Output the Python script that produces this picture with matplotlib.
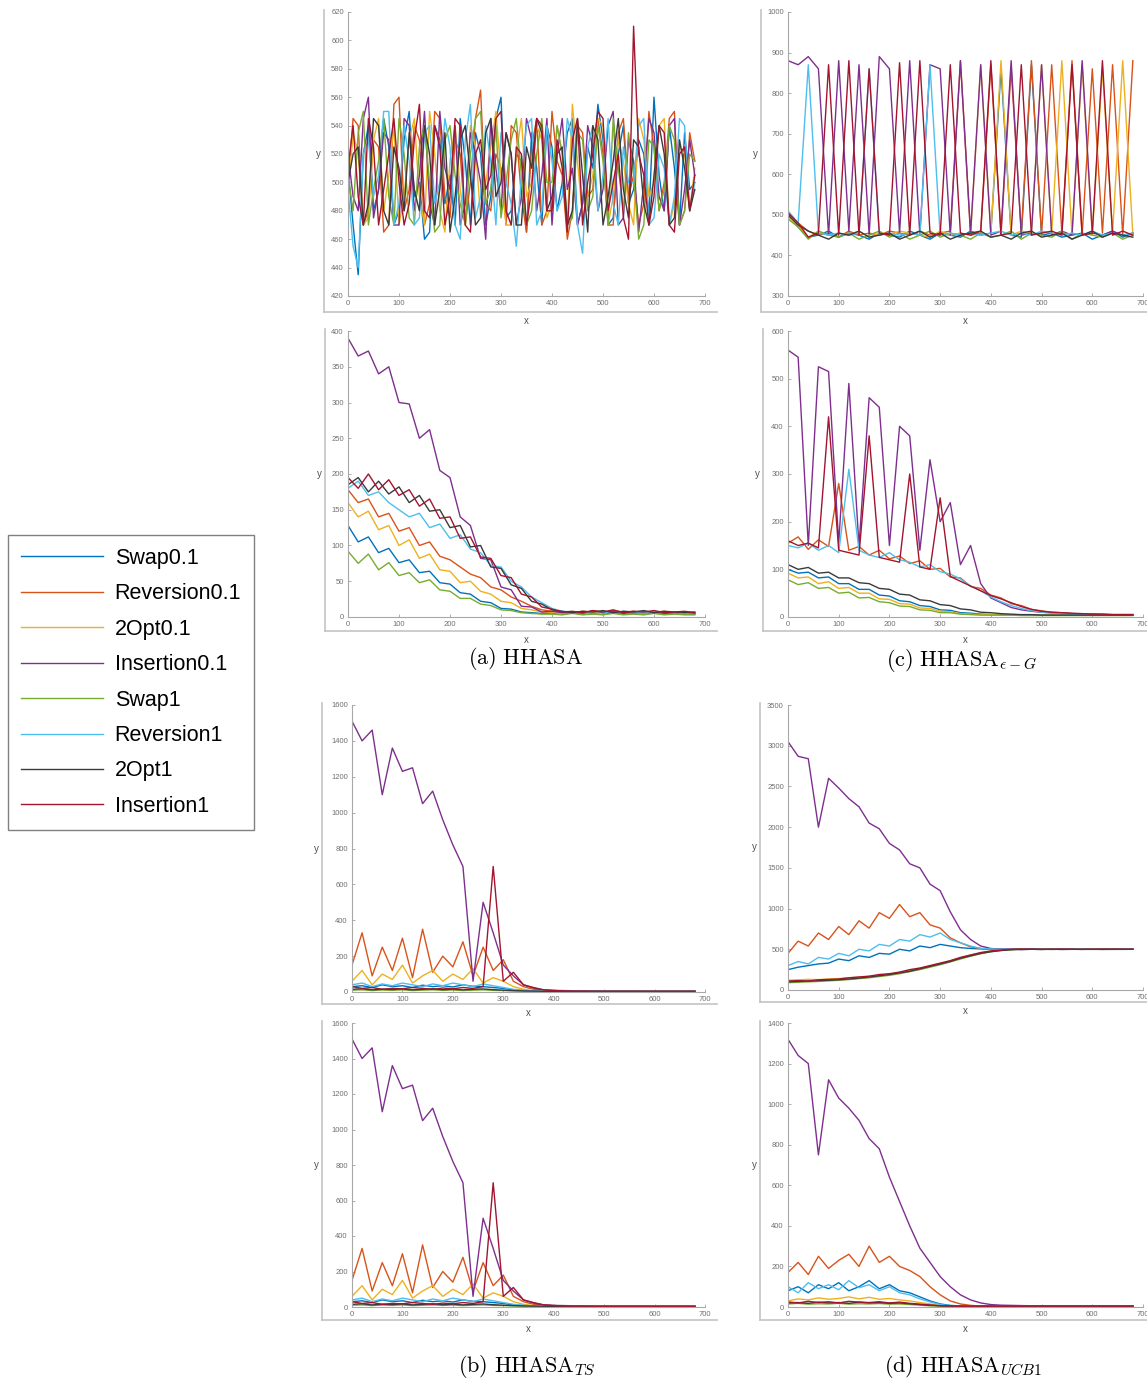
import matplotlib.pyplot as plt
import numpy as np
from matplotlib.lines import Line2D

plt.rcParams["font.family"] = ["Liberation Sans", "DejaVu Sans"]
plt.rcParams["mathtext.fontset"] = "cm"

W, H = 1147, 1384

# iteration index: every 20th step, the noisy top-left plot every 10th step
x = np.arange(0, 700, 20)
x_fine = np.arange(0, 690, 10)

series_names = ["Swap0.1", "Reversion0.1", "2Opt0.1", "Insertion0.1",
                "Swap1", "Reversion1", "2Opt1", "Insertion1"]
series_colors = ["#0072BD", "#D95319", "#EDB120", "#7E2F8E",
                 "#77AC30", "#4DBEEE", "#3a3a3a", "#A2142F"]

# (a) HHASA, upper plot  (order = series_names), on x_fine
hhasa_top = [
    [510, 470, 435, 520, 540, 480, 495, 545, 525, 470, 480, 530, 550, 490, 500, 460, 465, 540,
     530, 485, 505, 470, 545, 515, 470, 535, 520, 470, 490, 545, 560, 475, 480, 520, 515, 465,
     535, 510, 470, 540, 525, 480, 500, 535, 545, 470, 485, 525, 510, 555, 530, 470, 475, 520,
     540, 485, 495, 530, 520, 475, 560, 505, 480, 540, 510, 470, 535, 495, 500],
    [500, 545, 540, 470, 480, 530, 525, 465, 470, 555, 560, 480, 495, 540, 530, 470, 485, 550,
     545, 490, 475, 530, 520, 470, 500, 545, 565, 485, 480, 520, 510, 470, 540, 535, 490, 465,
     525, 545, 470, 480, 550, 515, 505, 460, 480, 540, 535, 490, 495, 545, 520, 470, 470, 535,
     545, 490, 505, 470, 485, 550, 525, 480, 500, 545, 550, 470, 480, 535, 515],
    [490, 535, 520, 470, 475, 530, 545, 480, 505, 540, 470, 490, 530, 545, 490, 470, 550, 520,
     480, 465, 515, 540, 495, 470, 540, 525, 475, 500, 525, 550, 505, 470, 470, 520, 545, 490,
     500, 540, 530, 475, 485, 540, 520, 470, 555, 515, 475, 490, 505, 545, 540, 470, 490, 530,
     515, 485, 470, 545, 530, 490, 500, 540, 545, 470, 485, 525, 520, 480, 510],
    [520, 490, 480, 545, 560, 475, 495, 535, 530, 470, 470, 545, 540, 480, 505, 550, 485, 470,
     550, 510, 495, 540, 470, 485, 535, 520, 500, 460, 545, 510, 480, 535, 520, 470, 490, 545,
     530, 480, 505, 545, 470, 520, 545, 495, 510, 470, 485, 540, 525, 480, 495, 540, 550, 470,
     475, 530, 515, 465, 500, 545, 535, 490, 480, 540, 545, 470, 495, 530, 505],
    [505, 480, 535, 550, 470, 495, 515, 545, 490, 470, 545, 520, 475, 470, 525, 540, 500, 465,
     470, 530, 540, 505, 485, 470, 520, 545, 550, 485, 495, 540, 475, 500, 530, 545, 505, 470,
     480, 520, 545, 500, 500, 540, 520, 470, 475, 535, 530, 480, 490, 540, 515, 470, 545, 510,
     480, 535, 505, 460, 470, 530, 525, 480, 495, 540, 530, 470, 480, 520, 515],
    [495, 455, 440, 520, 530, 490, 505, 550, 550, 470, 485, 540, 515, 470, 475, 535, 540, 485,
     500, 545, 525, 470, 460, 530, 555, 475, 490, 540, 515, 470, 535, 500, 485, 455, 505, 540,
     545, 470, 480, 540, 515, 480, 490, 545, 530, 470, 450, 525, 540, 480, 505, 545, 485, 470,
     525, 500, 500, 540, 545, 470, 475, 520, 510, 470, 490, 545, 540, 480, 500],
    [500, 520, 525, 470, 485, 545, 540, 480, 470, 525, 510, 480, 535, 495, 480, 540, 520, 470,
     495, 535, 465, 490, 530, 540, 505, 470, 475, 535, 545, 490, 500, 535, 520, 470, 470, 525,
     510, 545, 535, 480, 490, 520, 525, 470, 480, 545, 505, 465, 540, 530, 470, 490, 515, 545,
     495, 475, 530, 525, 485, 470, 505, 540, 520, 470, 475, 530, 510, 480, 495],
    [510, 540, 490, 470, 545, 525, 470, 495, 520, 545, 500, 470, 485, 530, 555, 480, 475, 540,
     525, 470, 490, 545, 540, 470, 465, 520, 530, 495, 505, 545, 550, 480, 470, 525, 520, 470,
     495, 545, 540, 480, 480, 530, 510, 465, 530, 545, 470, 500, 520, 550, 545, 480, 500, 520,
     475, 460, 610, 520, 505, 470, 490, 540, 535, 470, 465, 520, 525, 480, 505],
]

# (a) HHASA, lower plot
hhasa_bottom = [
    [128, 105, 112, 90, 96, 76, 80, 62, 64, 48, 46, 34, 32, 22, 20, 12, 11, 7,
     6, 5, 5, 4, 6, 4, 5, 4, 6, 4, 5, 4, 6, 4, 5, 4, 4],
    [178, 160, 165, 140, 145, 120, 125, 100, 105, 85, 80, 70, 60, 55, 42, 38, 28, 22,
     15, 10, 8, 7, 6, 8, 7, 6, 9, 7, 8, 6, 7, 8, 6, 7, 6],
    [160, 140, 148, 122, 128, 100, 108, 82, 88, 66, 64, 48, 50, 36, 32, 22, 20, 12,
     10, 7, 6, 5, 7, 5, 6, 5, 7, 5, 6, 5, 7, 5, 6, 5, 5],
    [390, 365, 372, 340, 350, 300, 298, 250, 262, 205, 195, 140, 128, 82, 80, 42, 38, 15,
     14, 7, 8, 6, 7, 5, 9, 6, 8, 5, 7, 6, 8, 5, 6, 7, 5],
    [92, 75, 88, 66, 76, 58, 62, 48, 52, 38, 36, 26, 26, 18, 16, 10, 9, 6,
     5, 4, 4, 3, 5, 3, 4, 3, 5, 3, 4, 3, 5, 3, 4, 3, 3],
    [180, 190, 170, 175, 160, 150, 140, 145, 125, 130, 110, 115, 95, 90, 72, 70, 50, 42,
     28, 20, 12, 8, 7, 6, 8, 7, 6, 8, 7, 6, 8, 7, 6, 7, 6],
    [185, 195, 175, 190, 172, 182, 160, 170, 148, 150, 125, 128, 98, 100, 70, 68, 45, 40,
     22, 18, 10, 8, 6, 8, 7, 9, 6, 8, 7, 9, 6, 8, 7, 6, 7],
    [195, 180, 200, 178, 192, 170, 178, 155, 165, 138, 140, 110, 112, 84, 82, 58, 55, 32,
     28, 14, 11, 7, 8, 6, 9, 7, 10, 6, 8, 7, 9, 6, 7, 8, 6],
]

# (b) HHASA_TS (both plots show the same run)
ts_run = [
    [30, 35, 25, 40, 30, 35, 25, 38, 30, 35, 28, 40, 32, 30, 25, 20, 12, 8,
     5, 4, 4, 4, 4, 4, 4, 4, 4, 4, 4, 4, 4, 4, 4, 4, 4],
    [150, 330, 90, 250, 120, 300, 80, 350, 110, 200, 140, 280, 90, 250, 120, 180, 60, 30,
     15, 10, 8, 6, 5, 5, 4, 4, 4, 4, 4, 4, 4, 4, 4, 4, 4],
    [60, 120, 40, 100, 70, 150, 50, 90, 120, 60, 100, 70, 130, 50, 80, 60, 30, 15,
     8, 5, 4, 4, 4, 4, 4, 4, 4, 4, 4, 4, 4, 4, 4, 4, 4],
    [1510, 1400, 1460, 1100, 1360, 1230, 1250, 1050, 1120, 960, 820, 700, 60, 500, 330, 150, 90, 40,
     22, 12, 9, 8, 7, 6, 6, 5, 5, 5, 5, 4, 4, 4, 4, 4, 4],
    [10, 12, 8, 11, 9, 12, 8, 10, 12, 9, 11, 8, 10, 12, 9, 8, 6, 5,
     4, 3, 3, 3, 3, 3, 3, 3, 3, 3, 3, 3, 3, 3, 3, 3, 3],
    [40, 50, 30, 45, 35, 50, 40, 30, 45, 35, 50, 40, 30, 45, 35, 25, 15, 10,
     6, 5, 4, 4, 4, 4, 4, 4, 4, 4, 4, 4, 4, 4, 4, 4, 4],
    [15, 18, 12, 16, 14, 17, 12, 15, 18, 13, 16, 12, 15, 17, 13, 10, 8, 6,
     5, 4, 3, 3, 3, 3, 3, 3, 3, 3, 3, 3, 3, 3, 3, 3, 3],
    [30, 20, 25, 15, 20, 18, 25, 20, 15, 22, 18, 25, 20, 30, 700, 60, 110, 40,
     25, 12, 8, 6, 5, 5, 4, 4, 4, 4, 4, 4, 4, 4, 4, 4, 4],
]

# (c) HHASA_eps-G, upper plot
egreedy_top = [
    [500, 470, 445, 450, 460, 445, 455, 450, 440, 455, 450, 445, 460, 450, 440, 455, 450, 445,
     460, 450, 455, 860, 450, 445, 870, 450, 455, 445, 450, 455, 440, 450, 460, 445, 455],
    [505, 480, 460, 450, 455, 445, 460, 450, 455, 450, 460, 455, 450, 460, 450, 455, 460, 880,
     450, 455, 870, 450, 860, 455, 880, 450, 870, 455, 880, 450, 860, 455, 870, 450, 880],
    [495, 475, 445, 460, 450, 455, 450, 460, 445, 455, 450, 460, 455, 450, 445, 460, 450, 455,
     450, 870, 455, 880, 450, 460, 455, 870, 455, 880, 450, 870, 450, 860, 455, 880, 450],
    [880, 870, 890, 860, 450, 880, 460, 870, 450, 890, 860, 455, 880, 450, 870, 860, 450, 880,
     455, 870, 450, 460, 880, 450, 455, 870, 450, 460, 450, 880, 455, 450, 460, 450, 455],
    [490, 470, 440, 460, 450, 445, 455, 440, 450, 460, 445, 455, 440, 450, 460, 445, 455, 450,
     440, 455, 445, 450, 460, 440, 455, 450, 445, 460, 440, 455, 450, 445, 455, 440, 450],
    [510, 480, 870, 455, 450, 455, 450, 455, 860, 450, 455, 450, 455, 450, 870, 450, 455, 450,
     455, 450, 455, 460, 450, 455, 450, 460, 455, 450, 455, 450, 460, 450, 455, 450, 455],
    [500, 475, 460, 450, 440, 455, 450, 460, 445, 450, 455, 440, 450, 460, 445, 455, 440, 450,
     455, 460, 445, 450, 440, 455, 460, 445, 450, 455, 440, 450, 460, 445, 455, 450, 445],
    [505, 480, 445, 455, 870, 450, 880, 450, 860, 455, 450, 875, 450, 880, 455, 450, 870, 455,
     450, 460, 880, 450, 455, 870, 450, 455, 460, 450, 870, 450, 455, 880, 450, 460, 450],
]

# (c) HHASA_eps-G, lower plot
egreedy_bottom = [
    [100, 92, 94, 82, 84, 70, 70, 58, 58, 46, 44, 34, 32, 24, 22, 15, 14, 9,
     8, 6, 5, 5, 4, 4, 4, 4, 4, 4, 4, 4, 4, 4, 4, 4, 4],
    [155, 168, 142, 162, 148, 280, 140, 148, 130, 140, 122, 128, 112, 118, 100, 102, 84, 82,
     64, 60, 46, 40, 28, 24, 16, 13, 10, 9, 7, 7, 6, 6, 5, 5, 5],
    [92, 82, 84, 70, 74, 60, 62, 50, 50, 38, 37, 28, 27, 19, 18, 12, 11, 7,
     6, 5, 5, 4, 4, 4, 4, 4, 4, 4, 4, 4, 4, 4, 4, 4, 4],
    [560, 545, 150, 525, 515, 155, 490, 150, 460, 440, 150, 400, 380, 140, 330, 200, 240, 110,
     150, 70, 40, 30, 20, 15, 12, 10, 9, 8, 7, 6, 6, 5, 5, 5, 5],
    [78, 68, 72, 60, 62, 50, 52, 40, 41, 32, 30, 23, 22, 15, 14, 9, 9, 6,
     5, 4, 4, 4, 4, 3, 3, 3, 3, 3, 3, 3, 3, 3, 3, 3, 3],
    [150, 145, 155, 140, 150, 135, 310, 140, 130, 125, 135, 120, 115, 105, 110, 95, 90, 80,
     65, 55, 42, 32, 24, 18, 13, 10, 8, 7, 6, 6, 5, 5, 5, 5, 5],
    [110, 100, 104, 92, 94, 82, 82, 72, 70, 60, 58, 48, 46, 36, 34, 26, 24, 17,
     15, 10, 9, 7, 6, 5, 5, 4, 4, 4, 4, 4, 4, 4, 4, 4, 4],
    [160, 150, 155, 145, 420, 140, 135, 130, 380, 125, 120, 115, 300, 105, 100, 250, 85, 75,
     65, 55, 45, 38, 30, 22, 16, 12, 10, 9, 8, 7, 6, 6, 5, 5, 5],
]

# (d) HHASA_UCB1, upper plot
ucb_top = [
    [250, 280, 300, 320, 330, 380, 360, 420, 400, 450, 440, 500, 480, 540, 520, 560, 540, 520,
     510, 505, 500, 502, 498, 500, 501, 499, 500, 500, 501, 499, 500, 500, 499, 500, 500],
    [450, 600, 540, 700, 620, 780, 680, 850, 760, 950, 880, 1050, 900, 950, 800, 760, 640, 580,
     530, 510, 505, 500, 498, 502, 500, 499, 501, 500, 499, 500, 501, 500, 499, 500, 500],
    [120, 125, 130, 128, 135, 140, 150, 158, 165, 180, 195, 215, 240, 265, 295, 325, 360, 395,
     430, 455, 475, 490, 498, 500, 501, 500, 499, 500, 501, 500, 500, 499, 500, 500, 500],
    [3050, 2870, 2840, 2000, 2600, 2480, 2350, 2250, 2050, 1980, 1800, 1720, 1550, 1500, 1300, 1220, 960, 740,
     620, 540, 510, 500, 505, 495, 500, 498, 502, 497, 500, 499, 501, 498, 500, 499, 500],
    [90, 95, 100, 105, 112, 120, 128, 140, 150, 165, 180, 200, 225, 250, 280, 310, 345, 380,
     415, 445, 470, 485, 495, 500, 500, 501, 499, 500, 500, 501, 500, 499, 500, 500, 500],
    [300, 350, 320, 400, 380, 450, 420, 500, 480, 560, 540, 620, 600, 680, 650, 700, 620, 580,
     540, 510, 505, 500, 502, 498, 500, 501, 499, 500, 500, 501, 499, 500, 500, 499, 500],
    [100, 105, 110, 115, 120, 125, 135, 145, 160, 175, 190, 210, 230, 260, 290, 320, 350, 390,
     420, 450, 470, 485, 495, 500, 502, 500, 499, 501, 500, 500, 499, 500, 501, 500, 500],
    [110, 115, 110, 125, 130, 135, 150, 160, 170, 190, 200, 220, 250, 270, 300, 330, 360, 400,
     430, 460, 480, 490, 500, 502, 500, 499, 500, 501, 500, 499, 500, 501, 500, 500, 500],
]

# (d) HHASA_UCB1, lower plot
ucb_bottom = [
    [80, 100, 70, 110, 90, 120, 80, 100, 130, 90, 110, 80, 70, 50, 30, 15, 8, 5,
     4, 4, 4, 4, 4, 4, 4, 4, 4, 4, 4, 4, 4, 4, 4, 4, 4],
    [170, 220, 160, 250, 190, 230, 260, 200, 300, 220, 250, 200, 180, 150, 100, 60, 30, 15,
     8, 5, 5, 4, 4, 4, 4, 4, 4, 4, 4, 4, 4, 4, 4, 4, 4],
    [30, 40, 35, 45, 38, 42, 50, 40, 48, 38, 42, 35, 30, 22, 15, 8, 5, 4,
     4, 4, 4, 4, 4, 4, 4, 4, 4, 4, 4, 4, 4, 4, 4, 4, 4],
    [1320, 1240, 1200, 750, 1120, 1030, 980, 920, 830, 780, 640, 520, 400, 290, 220, 150, 100, 60,
     35, 20, 12, 9, 8, 7, 6, 6, 5, 5, 5, 5, 5, 5, 5, 5, 5],
    [15, 18, 14, 16, 15, 18, 14, 16, 15, 17, 14, 15, 12, 9, 6, 5, 4, 3,
     3, 3, 3, 3, 3, 3, 3, 3, 3, 3, 3, 3, 3, 3, 3, 3, 3],
    [100, 70, 120, 90, 110, 85, 130, 95, 110, 80, 100, 70, 60, 40, 25, 12, 6, 4,
     4, 4, 4, 4, 4, 4, 4, 4, 4, 4, 4, 4, 4, 4, 4, 4, 4],
    [20, 22, 18, 24, 20, 22, 18, 24, 20, 22, 18, 20, 16, 12, 8, 6, 5, 4,
     4, 4, 4, 4, 4, 4, 4, 4, 4, 4, 4, 4, 4, 4, 4, 4, 4],
    [25, 20, 28, 22, 26, 20, 28, 24, 22, 26, 20, 24, 18, 14, 10, 6, 5, 4,
     4, 4, 4, 4, 4, 4, 4, 4, 4, 4, 4, 4, 4, 4, 4, 4, 4],
]

FRAME_COLOR = "#c4c4c4"
TICK_COLOR = "#707070"


def fig_line(fig, xs, ys):
    # line given in figure pixels (origin top left)
    fig.add_artist(Line2D([v / W for v in xs], [1 - v / H for v in ys],
                          transform=fig.transFigure, color=FRAME_COLOR, lw=1.2))


def draw_panel(fig, box, frame, xs, data, ylim, ystep):
    left, top, right, bottom = box
    frame_left, frame_bottom = frame
    ax = fig.add_axes([left / W, 1 - bottom / H, (right - left) / W, (bottom - top) / H])
    for vals, col, name in zip(data, series_colors, series_names):
        ax.plot(xs, vals, color=col, lw=1.0, label=name)
    ax.set_xlim(0, 700)
    ax.set_ylim(*ylim)
    ax.set_xticks(np.arange(0, 701, 100))
    ax.set_yticks(np.arange(ylim[0], ylim[1] + 1, ystep))
    for s in ["top", "right"]:
        ax.spines[s].set_visible(False)
    for s in ["left", "bottom"]:
        ax.spines[s].set_color("#a8a8a8")
        ax.spines[s].set_linewidth(0.8)
    ax.tick_params(direction="in", length=2.5, width=0.6, labelsize=5.5,
                   colors="#a0a0a0", labelcolor=TICK_COLOR, pad=3)

    # the grey frame round the tick labels
    fig_line(fig, [frame_left, frame_left], [top - 2, frame_bottom])
    fig_line(fig, [frame_left, min(right + 12, W)], [frame_bottom, frame_bottom])

    fig.text((left + right) / 2 / W, 1 - (frame_bottom + 9) / H, "x",
             ha="center", va="center", fontsize=7, color="#505050")
    fig.text((frame_left - 6) / W, 1 - (top + bottom) / 2 / H, "y",
             ha="center", va="center", fontsize=7, color="#505050")
    return ax


fig = plt.figure(figsize=(W / 100, H / 100), dpi=100)

ax0 = draw_panel(fig, (348, 12, 705, 296), (324, 312), x_fine, hhasa_top, (420, 620), 20)
draw_panel(fig, (348, 331, 705, 617), (325, 631), x, hhasa_bottom, (0, 400), 50)
draw_panel(fig, (352, 705, 705, 992), (322, 1004), x, ts_run, (0, 1600), 200)
draw_panel(fig, (352, 1023, 705, 1307), (322, 1320), x, ts_run, (0, 1600), 200)
draw_panel(fig, (788, 12, 1143, 296), (761, 312), x, egreedy_top, (300, 1000), 100)
draw_panel(fig, (788, 331, 1143, 617), (763, 631), x, egreedy_bottom, (0, 600), 100)
draw_panel(fig, (788, 705, 1143, 990), (760, 1002), x, ucb_top, (0, 3500), 500)
draw_panel(fig, (788, 1023, 1143, 1307), (760, 1320), x, ucb_bottom, (0, 1400), 200)

# legend on the left
handles, labels = ax0.get_legend_handles_labels()
leg = fig.legend(handles, labels, loc="upper left",
                 bbox_to_anchor=(8 / W, 1 - 535 / H), borderaxespad=0,
                 fontsize=15.5, handlelength=3.8, handletextpad=0.55,
                 labelspacing=0.67, borderpad=0.6, fancybox=False, framealpha=1)
leg.get_frame().set_edgecolor("#808080")
leg.get_frame().set_linewidth(1.0)
for line in leg.get_lines():
    line.set_linewidth(1.0)

# captions
captions = [r"$\mathrm{(a)\ HHASA}$", r"$\mathrm{(c)\ HHASA}_{\epsilon-G}$",
            r"$\mathrm{(b)\ HHASA}_{TS}$", r"$\mathrm{(d)\ HHASA}_{UCB1}$"]
caption_pos = [(526, 659), (962, 660), (527, 1366), (963, 1366)]
for txt, (cx, cy) in zip(captions, caption_pos):
    fig.text(cx / W, 1 - cy / H, txt, ha="center", va="center", fontsize=16)

fig.savefig("out.png", dpi=100)
